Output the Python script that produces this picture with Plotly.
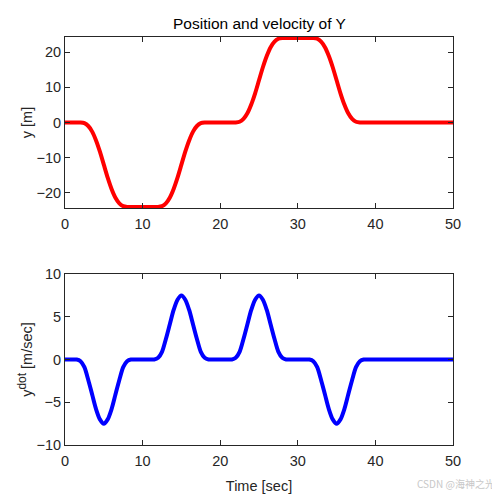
import plotly.graph_objects as go
from plotly.subplots import make_subplots

# sample times [sec], every 0.5 s
t = [i / 2 for i in range(101)]

# position y [m]
y_pos = [
    0, 0, 0, 0, 0, -0.2, -1.0, -2.6, -5.1, -8.3,
    -12.0, -15.7, -18.9, -21.4, -23.0, -23.8, -24.0, -24, -24, -24,
    -24, -24, -24, -24, -24, -23.8, -23.0, -21.4, -18.9, -15.7,
    -12.0, -8.3, -5.1, -2.6, -1.0, -0.2, 0, 0, 0, 0,
    0, 0, 0, 0, 0, 0.2, 1.0, 2.6, 5.1, 8.3,
    12.0, 15.7, 18.9, 21.4, 23.0, 23.8, 24.0, 24, 24, 24,
    24, 24, 24, 24, 24, 23.8, 23.0, 21.4, 18.9, 15.7,
    12.0, 8.3, 5.1, 2.6, 1.0, 0.2, 0, 0, 0, 0,
    0, 0, 0, 0, 0, 0, 0, 0, 0, 0,
    0, 0, 0, 0, 0, 0, 0, 0, 0, 0,
    0,
]

# velocity [m/sec]
y_vel = [
    0, 0, 0, 0, -0.2, -0.9, -2.4, -4.1, -5.8, -7.0,
    -7.5, -7.0, -5.8, -4.1, -2.4, -0.9, -0.2, 0, 0, 0,
    0, 0, 0, 0, 0.2, 0.9, 2.4, 4.1, 5.8, 7.0,
    7.5, 7.0, 5.8, 4.1, 2.4, 0.9, 0.2, 0, 0, 0,
    0, 0, 0, 0, 0.2, 0.9, 2.4, 4.1, 5.8, 7.0,
    7.5, 7.0, 5.8, 4.1, 2.4, 0.9, 0.2, 0, 0, 0,
    0, 0, 0, 0, -0.2, -0.9, -2.4, -4.1, -5.8, -7.0,
    -7.5, -7.0, -5.8, -4.1, -2.4, -0.9, -0.2, 0, 0, 0,
    0, 0, 0, 0, 0, 0, 0, 0, 0, 0,
    0, 0, 0, 0, 0, 0, 0, 0, 0, 0,
    0,
]

x_ticks = [0, 10, 20, 30, 40, 50]
pos_ticks = [-20, -10, 0, 10, 20]
vel_ticks = [-10, -5, 0, 5, 10]

ink = "#262626"
fnt = dict(family="Liberation Sans, Arial, sans-serif", size=14.5, color=ink)

fig = make_subplots(rows=2, cols=1)
fig.add_trace(go.Scatter(x=t, y=y_pos, mode="lines",
                         line=dict(color="red", width=4, shape="spline", smoothing=0.8)),
              row=1, col=1)
fig.add_trace(go.Scatter(x=t, y=y_vel, mode="lines",
                         line=dict(color="blue", width=4, shape="spline", smoothing=0.8)),
              row=2, col=1)

axis_style = dict(showline=True, linecolor=ink, linewidth=1, mirror="ticks",
                  ticks="inside", ticklen=5, tickcolor=ink, showgrid=False,
                  zeroline=False, tickfont=fnt, automargin=False)

fig.update_xaxes(range=[0, 50], tickvals=x_ticks, domain=[0, 1],
                 ticklabelstandoff=3, **axis_style)
fig.update_yaxes(**axis_style)
fig.update_xaxes(row=2, col=1, title=dict(text="Time [sec]", font=fnt, standoff=12))
fig.update_yaxes(domain=[0.581, 1.0], range=[-24.3, 24.3], tickvals=pos_ticks,
                 title=dict(text="y [m]", font=fnt, standoff=0), row=1, col=1)
fig.update_yaxes(domain=[0.0, 0.419], range=[-10, 10], tickvals=vel_ticks,
                 title=dict(text="y<sup><span style='font-size:12px'>dot</span></sup> [m/sec]",
                            font=fnt, standoff=0),
                 row=2, col=1)

# the page body adds an 8 px offset, so margins are shifted to compensate
fig.update_layout(
    width=500, height=500, showlegend=False,
    paper_bgcolor="white", plot_bgcolor="white",
    margin=dict(l=57, r=55, t=29, b=63, autoexpand=False),
    annotations=[
        dict(text="Position and velocity of Y", x=0.5, y=1.0, yshift=3,
             xref="paper", yref="paper", xanchor="center", yanchor="bottom",
             showarrow=False,
             font=dict(family=fnt["family"], size=15.5, color="black")),
        dict(text="CSDN @海神之光", x=1.0, y=0, xshift=44, yshift=-48,
             xref="paper", yref="paper", xanchor="right", yanchor="bottom",
             showarrow=False,
             font=dict(family="Noto Sans CJK SC", size=10, color="#c8c8c8")),
    ],
)

fig.write_html("out.html")
